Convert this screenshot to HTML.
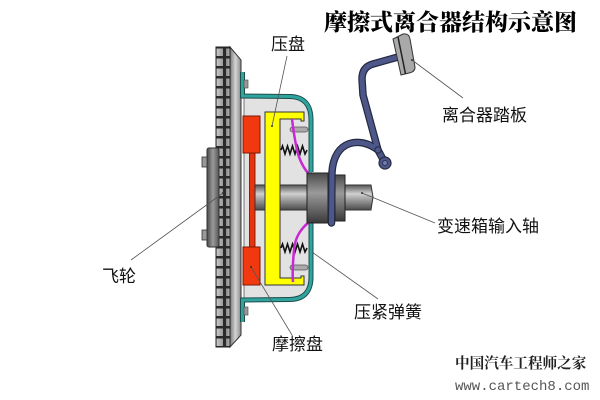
<!DOCTYPE html>
<html><head><meta charset="utf-8"><style>
html,body{margin:0;padding:0;background:#fff;}
svg{display:block;}
.lb{font-family:"Liberation Sans","Noto Sans CJK SC",sans-serif;font-size:17px;fill:#111;}
</style></head><body>
<svg width="600" height="400" viewBox="0 0 600 400" xmlns="http://www.w3.org/2000/svg">
<defs>
<linearGradient id="fwb" x1="0" y1="0" x2="1" y2="0"><stop offset="0" stop-color="#7a7a7a"/><stop offset="0.5" stop-color="#d4d4d4"/><stop offset="1" stop-color="#8a8a8a"/></linearGradient>
<linearGradient id="hub" x1="0" y1="0" x2="1" y2="0"><stop offset="0" stop-color="#4a4a4a"/><stop offset="0.5" stop-color="#9a9a9a"/><stop offset="1" stop-color="#555"/></linearGradient>
<linearGradient id="sh" x1="0" y1="0" x2="0" y2="1"><stop offset="0" stop-color="#555"/><stop offset="0.35" stop-color="#d0d0d0"/><stop offset="1" stop-color="#4a4a4a"/></linearGradient>
<linearGradient id="brg" x1="0" y1="0" x2="0" y2="1"><stop offset="0" stop-color="#4a4a4a"/><stop offset="0.4" stop-color="#9a9a9a"/><stop offset="1" stop-color="#3a3a3a"/></linearGradient>
<linearGradient id="tooth" x1="0" y1="0" x2="1" y2="0"><stop offset="0" stop-color="#8a8a8a"/><stop offset="0.5" stop-color="#c4c4c4"/><stop offset="1" stop-color="#999"/></linearGradient>
<pattern id="teeth" x="0" y="47" width="14" height="10" patternUnits="userSpaceOnUse">
<rect x="0" y="0" width="14" height="10" fill="#2a2a2a"/>
<rect x="2" y="1.5" width="11" height="7.5" fill="url(#tooth)"/>
</pattern>
</defs>

<!-- Title -->
<text x="324" y="30" font-family="'Liberation Serif','Noto Serif CJK SC',serif" font-size="23" font-weight="900" fill="#000">摩擦式离合器结构示意图</text>

<!-- Flywheel body -->
<polygon points="230,47 241,60 241,335 230,347" fill="url(#fwb)" stroke="#333" stroke-width="1"/>
<rect x="216" y="47" width="14" height="300" fill="url(#teeth)" stroke="#222" stroke-width="1"/>
<!-- hub -->
<rect x="207" y="148" width="12" height="99" rx="2" fill="url(#hub)" stroke="#333" stroke-width="1"/>
<rect x="202" y="157" width="5" height="10" fill="#999" stroke="#333" stroke-width="0.8"/>
<rect x="202" y="230" width="5" height="10" fill="#999" stroke="#333" stroke-width="0.8"/>

<!-- Cover interior -->
<path d="M244,98 L290,98 Q311,98 311,120 L311,277 Q311,298 290,298 L244,298 Z" fill="#e2e2e2" stroke="#555" stroke-width="0.8"/>
<!-- Cover teal -->
<path d="M242.5,72 L242.5,96 L290,96.5 Q311,97 311,120 L311,172 M311,223 L311,277 Q311,299 290,299.5 L242.5,300 L242.5,322" fill="none" stroke="#1d4d4b" stroke-width="5"/>
<path d="M242.5,72 L242.5,96 L290,96.5 Q311,97 311,120 L311,172 M311,223 L311,277 Q311,299 290,299.5 L242.5,300 L242.5,322" fill="none" stroke="#2fa39e" stroke-width="3"/>
<rect x="244" y="80" width="4" height="8" fill="#999" stroke="#444" stroke-width="0.6"/>
<rect x="244" y="307" width="4" height="8" fill="#999" stroke="#444" stroke-width="0.6"/>

<!-- Friction disc -->
<rect x="249.5" y="150" width="5.5" height="100" fill="#e8330f" stroke="#7a1a05" stroke-width="0.9"/>
<rect x="243" y="116" width="17" height="37" fill="#f2380f" stroke="#7a1a05" stroke-width="1"/>
<rect x="243" y="247" width="17" height="38" fill="#f2380f" stroke="#7a1a05" stroke-width="1"/>

<!-- Shaft -->
<path d="M255,185 L371,185 L373,197 L371,210 L255,210 Z" fill="url(#sh)" stroke="#333" stroke-width="1"/>

<!-- Pressure plate -->
<path d="M265,112 L304,112 L304,121 L301,121 L301,119 L280,119 L280,278 L301,278 L301,276 L304,276 L304,285 L265,285 Z" fill="#ffff00" stroke="#333" stroke-width="1"/>

<!-- Pins -->
<rect x="290" y="127" width="18" height="5" rx="2.5" fill="#aaa" stroke="#555" stroke-width="0.7"/>
<rect x="290" y="265" width="18" height="5" rx="2.5" fill="#aaa" stroke="#555" stroke-width="0.7"/>

<!-- Springs -->
<polyline points="281,150 282.5,146 285,154 287.5,146 290,154 292.5,146 295,154 297.5,146 300,154 302.5,146 305,154 307,150" fill="none" stroke="#111" stroke-width="1.6"/>
<polyline points="281,248 282.5,244 285,252 287.5,244 290,252 292.5,244 295,252 297.5,244 300,252 302.5,244 305,252 307,248" fill="none" stroke="#111" stroke-width="1.6"/>

<!-- Magenta levers -->
<path d="M292,119 C294,135 296,148 299,157 C302,165 305,170 309,174" fill="none" stroke="#c62ad0" stroke-width="2.5"/>
<path d="M309,222 C302,228 295,236 294,250 C293,262 292,272 293,282" fill="none" stroke="#c62ad0" stroke-width="2.5"/>

<!-- Release bearing -->
<rect x="307" y="173" width="21" height="50" fill="url(#brg)" stroke="#222" stroke-width="1"/>
<rect x="335" y="175" width="10" height="46" fill="url(#brg)" stroke="#222" stroke-width="1"/>

<!-- Pedal lever & fork -->
<g fill="none" stroke-linecap="round" stroke-linejoin="round">
<path d="M398,57 L373,64 Q362,67 362,79 L363,95 L378,150 L385,163" stroke="#252a44" stroke-width="7.5"/>
<path d="M378,150 C360,136 334,140 332,172 L331.5,223" stroke="#252a44" stroke-width="7.5"/>
<path d="M398,57 L373,64 Q362,67 362,79 L363,95 L378,150 L385,163" stroke="#4d5888" stroke-width="5"/>
<path d="M378,150 C360,136 334,140 332,172 L331.5,223" stroke="#4d5888" stroke-width="5"/>
</g>
<circle cx="378" cy="150" r="3.2" fill="#4d5888" stroke="#252a44" stroke-width="1"/>
<circle cx="385" cy="163" r="6" fill="#4d5888" stroke="#252a44" stroke-width="1.2"/>
<circle cx="385" cy="163" r="2.5" fill="#6f7cad" stroke="#252a44" stroke-width="0.8"/>
<!-- Pedal pad -->
<path d="M393,39 L403,34 Q409,33 410,39 L415,67 Q415,72 409,73 L401,75 Z" fill="#a9a9a9" stroke="#333" stroke-width="1"/>
<line x1="398" y1="37" x2="405.5" y2="74" stroke="#222" stroke-width="1.5"/>

<!-- Leader lines -->
<g stroke="#555" stroke-width="0.8">
<line x1="287" y1="56" x2="272" y2="126"/>
<line x1="412" y1="60" x2="463" y2="98"/>
<line x1="362" y1="193" x2="435" y2="223"/>
<line x1="131" y1="260" x2="223" y2="193"/>
<line x1="312" y1="252" x2="378" y2="299"/>
<line x1="251" y1="267" x2="292" y2="335"/>
</g>
<g fill="#333">
<circle cx="272" cy="126" r="1"/><circle cx="362" cy="193" r="1"/><circle cx="223" cy="193" r="1"/><circle cx="251" cy="267" r="1"/><circle cx="412" cy="60" r="1"/>
</g>

<!-- Labels -->
<text class="lb" x="271" y="50">压盘</text>
<text class="lb" x="442" y="121">离合器踏板</text>
<text class="lb" x="437" y="232">变速箱输入轴</text>
<text class="lb" x="102" y="282">飞轮</text>
<text class="lb" x="354" y="318">压紧弹簧</text>
<text class="lb" x="272" y="350">摩擦盘</text>

<!-- Watermark -->
<text x="455" y="368" font-family="'Liberation Serif','Noto Serif CJK SC',serif" font-size="14.6" font-weight="700" fill="#222">中国汽车工程师之家</text>
<text x="455" y="390" font-family="'Liberation Mono',monospace" font-size="14" fill="#555">www.cartech8.com</text>
</svg>
</body></html>
